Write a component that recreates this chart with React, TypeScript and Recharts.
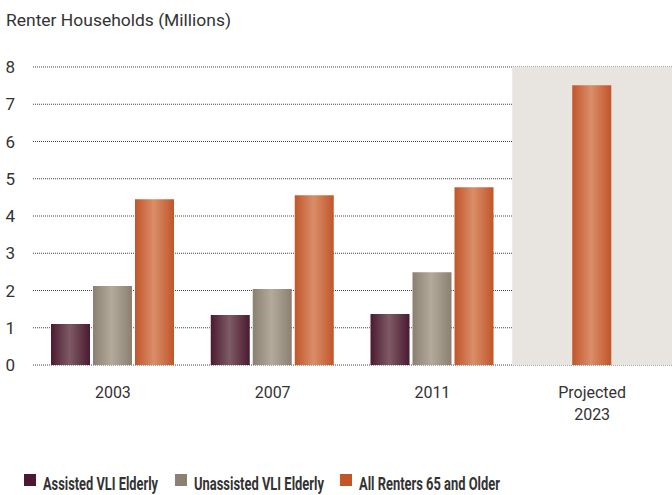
import React from "react";
import { BarChart, Bar, XAxis, YAxis, CartesianGrid, ReferenceArea } from "recharts";

const categories = ["2003", "2007", "2011", "Projected 2023"];
const assistedVli = [1.1, 1.34, 1.37, null];
const unassistedVli = [2.12, 2.04, 2.49, null];
const allRenters65 = [4.45, 4.56, 4.77, 7.51];
const yTicks = [0, 1, 2, 3, 4, 5, 6, 7, 8];

const projectedCategory = "Projected 2023";

// the projected bar sits on its own hidden axis so it is centred in its band
const data = categories.map((name, i) => ({
  name,
  assisted: assistedVli[i],
  unassisted: unassistedVli[i],
  all: name === projectedCategory ? null : allRenters65[i],
  projected: name === projectedCategory ? allRenters65[i] : null,
}));

const FONT = 'Roboto, "Liberation Sans", sans-serif';
const TEXT = "#333";
const SQUEEZE = 0.73; // the source font is a condensed one

// x = swatch left, w = text width on screen
const legendItems = [
  { label: "Assisted VLI Elderly", color: "#4b1a31", x: 24, w: 115 },
  { label: "Unassisted VLI Elderly", color: "#8c8170", x: 175, w: 130 },
  { label: "All Renters 65 and Older", color: "#c4552a", x: 340, w: 141 },
];

function YTick({ y, payload }: any) {
  return (
    <text x={15} y={y} textAnchor="end" dominantBaseline="central" fill={TEXT} fontSize={17} fontFamily={FONT}>
      {payload.value}
    </text>
  );
}

function XTick({ x, payload }: any) {
  const parts = String(payload.value).split(" ");
  return (
    <g>
      {parts.map((p, i) => (
        <text key={i} x={x} y={392 + i * 22} textAnchor="middle" dominantBaseline="central" fill={TEXT} fontSize={16} fontFamily={FONT}>
          {p}
        </text>
      ))}
    </g>
  );
}

function Gradient({ id, edge, mid }: { id: string; edge: string; mid: string }) {
  return (
    <linearGradient id={id} x1="0" y1="0" x2="1" y2="0">
      <stop offset="0%" stopColor={edge} />
      <stop offset="48%" stopColor={mid} />
      <stop offset="100%" stopColor={edge} />
    </linearGradient>
  );
}

export default function App() {
  return (
    <div style={{ position: "absolute", left: 0, top: 0, width: 672, height: 495, background: "#fff", fontFamily: FONT }}>
      <svg width={672} height={40} style={{ position: "absolute", left: 0, top: 0 }}>
        <text x={6} y={26} fontSize={17} fill={TEXT} fontFamily={FONT} textLength={225} lengthAdjust="spacingAndGlyphs">
          Renter Households (Millions)
        </text>
      </svg>
      <div style={{ position: "absolute", left: 0, top: 0 }}>
        <BarChart
          width={672}
          height={440}
          data={data}
          margin={{ top: 67, right: 0, bottom: 15, left: 0 }}
          barGap={3}
          barSize={39}
        >
          <defs>
            <Gradient id="gAssisted" edge="#4b1a31" mid="#7e5b64" />
            <Gradient id="gUnassisted" edge="#8b8070" mid="#b4aa9c" />
            <Gradient id="gAll" edge="#c2552a" mid="#d98e69" />
          </defs>
          <ReferenceArea x1={projectedCategory} x2={projectedCategory} y1={0} y2={8} fill="#e8e4df" fillOpacity={1} stroke="none" />
          <CartesianGrid vertical={false} stroke="#444" strokeDasharray="1 1" />
          <XAxis dataKey="name" axisLine={false} tickLine={false} height={60} tick={<XTick />} interval={0} />
          <XAxis xAxisId="proj" dataKey="name" hide />
          <YAxis width={33} domain={[0, 8]} ticks={yTicks} axisLine={false} tickLine={false} tick={<YTick />} />
          <Bar dataKey="assisted" fill="url(#gAssisted)" isAnimationActive={false} />
          <Bar dataKey="unassisted" fill="url(#gUnassisted)" isAnimationActive={false} />
          <Bar dataKey="all" fill="url(#gAll)" isAnimationActive={false} />
          <Bar dataKey="projected" xAxisId="proj" fill="url(#gAll)" isAnimationActive={false} />
        </BarChart>
      </div>
      <svg width={672} height={40} style={{ position: "absolute", left: 0, top: 460 }}>
        {legendItems.map((it) => (
          <g key={it.label}>
            <rect x={it.x} y={14} width={12} height={12} fill={it.color} />
            <text
              transform={`translate(${it.x + 19}, 30) scale(${SQUEEZE}, 1)`}
              fontSize={18}
              fontWeight="bold"
              fill={TEXT}
              fontFamily={FONT}
              textLength={it.w / SQUEEZE}
              lengthAdjust="spacingAndGlyphs"
            >
              {it.label}
            </text>
          </g>
        ))}
      </svg>
    </div>
  );
}
